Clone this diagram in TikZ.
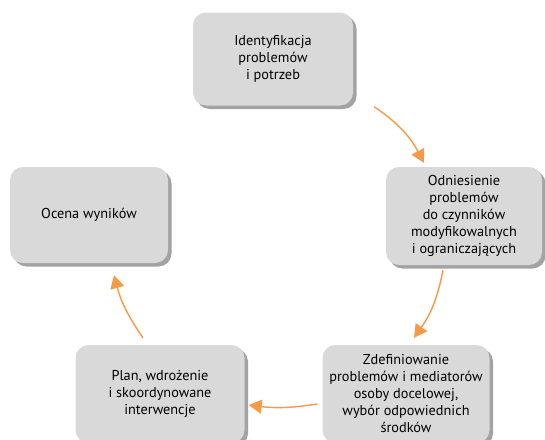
\documentclass[tikz,border=0pt]{standalone}
\usepackage{fontspec}
\setmainfont{PT Sans}
\usepackage{tikz}
\usetikzlibrary{arrows.meta,shadows,calc}
\definecolor{boxgray}{HTML}{D9D9D9}
\definecolor{shadegray}{HTML}{A3A3A3}
\definecolor{arrorange}{HTML}{F79A46}
\tikzset{
  stage/.style={fill=boxgray, rounded corners=13pt, align=center, inner sep=0pt,
    font=\fontsize{14.3}{17}\selectfont,
    drop shadow={shadow xshift=3.5pt, shadow yshift=-3.5pt, opacity=1, fill=shadegray}},
  flow/.style={draw=arrorange, line width=1.4pt, -{Triangle[length=13pt,width=14pt]}}
}
\begin{document}
\begin{tikzpicture}[x=1pt,y=-1pt]
\useasboundingbox (0,0) rectangle (545,439);
\node[stage, minimum width=160pt, minimum height=93pt] (ident) at (273,59) {Identyfikacja\\problemów\\i potrzeb};
\node[stage, minimum width=156pt, minimum height=98pt] (odn) at (464,216) {Odniesienie\\problemów\\do czynników\\modyfikowalnych\\i ograniczających};
\node[stage, minimum width=167pt, minimum height=98pt] (zdef) at (406,394) {Zdefiniowanie\\problemów i mediatorów\\osoby docelowej,\\wybór odpowiednich\\środków};
\node[stage, minimum width=169pt, minimum height=98pt] (plan) at (160,394) {Plan, wdrożenie\\i skoordynowane\\interwencje};
\node[stage, minimum width=158pt, minimum height=96pt] (ocena) at (89,215) {Ocena wyników};
\draw[flow] ($(ident.south east)+(21,1)$) to[bend left=14] ($(odn.north west)+(38,-4)$);
\draw[flow] ($(odn.south)+(-21,5)$) to[bend left=12] ($(zdef.north)+(8,-7)$);
\draw[flow] ($(zdef.west)+(-5,10)$) to[bend left=8] ($(plan.east)+(4,11)$);
\draw[flow] ($(plan.north)+(-17,-7)$) to[bend left=10] ($(ocena.south)+(25,12)$);
\end{tikzpicture}
\end{document}
